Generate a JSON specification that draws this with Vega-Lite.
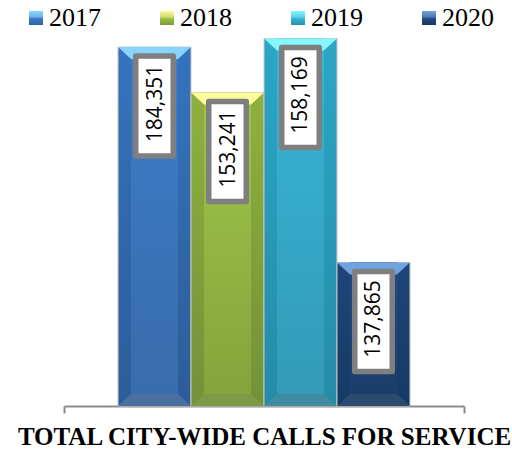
{
"$schema":"https://vega.github.io/schema/vega-lite/v6.json",
"width":400,"height":376,
"padding":{"left":64,"right":48,"top":30,"bottom":43},
"autosize":{"type":"none"},
"background":"white",
"view":{"stroke":null},
"data":{"values":[
{"group":"TOTAL CITY-WIDE CALLS FOR SERVICE","year":"2017","calls":184351,"drawn":184351},
{"group":"TOTAL CITY-WIDE CALLS FOR SERVICE","year":"2018","calls":153241,"drawn":161000},
{"group":"TOTAL CITY-WIDE CALLS FOR SERVICE","year":"2019","calls":158169,"drawn":188700},
{"group":"TOTAL CITY-WIDE CALLS FOR SERVICE","year":"2020","calls":137865,"drawn":73700}
]},
"encoding":{
"x":{"field":"group","type":"nominal","title":null,"scale":{"paddingInner":0,"paddingOuter":0},
"axis":{"labelAngle":0,"tickBand":"extent","tickSize":7,"tickWidth":2,"tickColor":"#8c8c8c","domainColor":"#8c8c8c","domainWidth":2,"labelFont":"Liberation Serif","labelFontWeight":"bold","labelFontSize":25,"labelColor":"#000","labelPadding":11,"labelLimit":0,"labelOverlap":false,"labelBound":false,"labelFlush":false}},
"xOffset":{"field":"year","type":"nominal","scale":{"paddingInner":0,"paddingOuter":0.74}},
"y":{"field":"drawn","type":"quantitative","stack":null,"axis":null,"scale":{"domain":[0,193080]}}
},
"resolve":{"scale":{"fill":"independent"}},
"layer":[
{"mark":{"type":"point","filled":true,"size":1},
 "encoding":{"y":{"datum":10000,"type":"quantitative"},"color":{"field":"year","type":"nominal","scale":{"range":[
 {"expr":"{gradient:'linear',x1:0,y1:0,x2:0,y2:1,stops:[{offset:0,color:'#8ad6ff'},{offset:0.42,color:'#6cb4ea'},{offset:0.55,color:'#3b78c3'},{offset:1,color:'#2f65a8'}]}"},
 {"expr":"{gradient:'linear',x1:0,y1:0,x2:0,y2:1,stops:[{offset:0,color:'#fdfb9c'},{offset:0.42,color:'#d0dc70'},{offset:0.55,color:'#9bc045'},{offset:1,color:'#7b9a38'}]}"},
 {"expr":"{gradient:'linear',x1:0,y1:0,x2:0,y2:1,stops:[{offset:0,color:'#82f5fb'},{offset:0.42,color:'#5cd5e8'},{offset:0.55,color:'#37b4d6'},{offset:1,color:'#2a8fa8'}]}"},
 {"expr":"{gradient:'linear',x1:0,y1:0,x2:0,y2:1,stops:[{offset:0,color:'#6fa3df'},{offset:0.42,color:'#4a7ab5'},{offset:0.55,color:'#1f4a85'},{offset:1,color:'#16355f'}]}"}
 ]},
 "legend":{"title":null,"orient":"none","direction":"horizontal","columns":4,"legendX":-41,"legendY":-25,"symbolType":"square","symbolSize":196,"symbolOpacity":1,"symbolStrokeWidth":0,"labelFont":"Liberation Serif","labelFontSize":26,"labelColor":"#000","labelOffset":0,"columnPadding":53,"symbolLimit":0,"labelLimit":60,"gridAlign":"each"}}}},
{"mark":{"type":"bar","stroke":"#c6c6c6","strokeWidth":1},
 "encoding":{"fill":{"field":"year","type":"nominal","legend":null,"scale":{"range":[
 {"expr":"{gradient:'linear',x1:0,y1:0,x2:0,y2:1,stops:[{offset:0,color:'#3673bd'},{offset:1,color:'#2c5d98'}]}"},
 {"expr":"{gradient:'linear',x1:0,y1:0,x2:0,y2:1,stops:[{offset:0,color:'#8fb03f'},{offset:1,color:'#739238'}]}"},
 {"expr":"{gradient:'linear',x1:0,y1:0,x2:0,y2:1,stops:[{offset:0,color:'#2ca6c6'},{offset:1,color:'#258ca6'}]}"},
 {"expr":"{gradient:'linear',x1:0,y1:0,x2:0,y2:1,stops:[{offset:0,color:'#1e4679'},{offset:1,color:'#153a64'}]}"}
 ]}}}},
{"mark":{"type":"bar","width":47},
 "encoding":{"fill":{"field":"year","type":"nominal","legend":null,"scale":{"range":[
 {"expr":"{gradient:'linear',x1:0,y1:0,x2:0,y2:1,stops:[{offset:0,color:'#3d7cc9'},{offset:1,color:'#386cac'}]}"},
 {"expr":"{gradient:'linear',x1:0,y1:0,x2:0,y2:1,stops:[{offset:0,color:'#9fc64a'},{offset:1,color:'#84a33c'}]}"},
 {"expr":"{gradient:'linear',x1:0,y1:0,x2:0,y2:1,stops:[{offset:0,color:'#38b6d9'},{offset:1,color:'#329ab6'}]}"},
 {"expr":"{gradient:'linear',x1:0,y1:0,x2:0,y2:1,stops:[{offset:0,color:'#214a86'},{offset:1,color:'#1c3c68'}]}"}
 ]}}}},
{"mark":{"type":"point","filled":true,"opacity":1,"size":5329,"shape":"M-1,0L1,0L0.644,0.33L-0.644,0.33Z"},
 "encoding":{"fill":{"field":"year","type":"nominal","legend":null,"scale":{"range":["#88d4fc","#fdfb9c","#84f6fc","#70a4e0"]}}}},
{"mark":{"type":"point","filled":true,"opacity":1,"size":5329,"shape":"M-1,0L1,0L0.644,-0.33L-0.644,-0.33Z"},
 "encoding":{"y":{"datum":0,"type":"quantitative"},"fill":{"field":"year","type":"nominal","legend":null,"scale":{"range":["#4a70a2","#7f9a46","#3f8ca3","#2c4a6e"]}}}},
{"mark":{"type":"point","filled":false,"fill":"white","fillOpacity":1,"opacity":1,"stroke":"#7f7f7f","strokeWidth":5.5,"strokeJoin":"round","size":10000,"yOffset":59,"shape":"M-0.375,-1L0.375,-1L0.375,1L-0.375,1Z"}},
{"mark":{"type":"text","angle":270,"align":"center","baseline":"middle","font":"Open Sans","fontSize":21,"color":"#000","yOffset":56.5,"dy":1},
 "encoding":{"text":{"field":"calls","type":"quantitative","format":","}}}
]
}
